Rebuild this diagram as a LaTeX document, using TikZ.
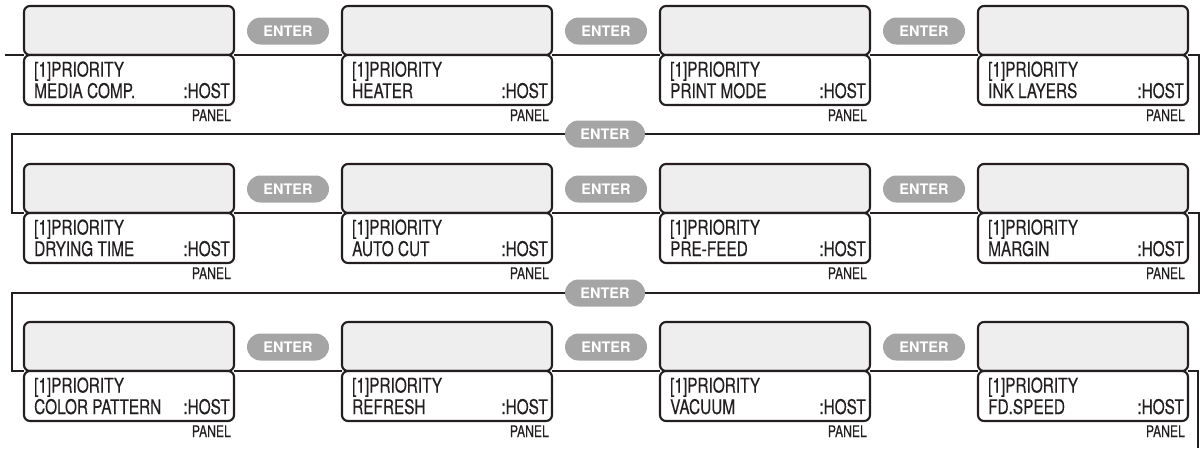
\documentclass[tikz,border=0pt]{standalone}
\usepackage{fontspec}
\newfontfamily\condfont[FakeStretch=0.76,FakeBold=0.25]{TeX Gyre Heros}
\newfontfamily\herosfont{TeX Gyre Heros}
\definecolor{boxgrey}{HTML}{EEEEEE}
\definecolor{pillgrey}{HTML}{A5A5A5}
\definecolor{ink}{HTML}{231F20}
\begin{document}
\begin{tikzpicture}[x=1pt,y=-1pt,
  greybox/.style={draw=ink, line width=2.1pt, fill=boxgrey, rounded corners=6pt,
    minimum width=210pt, minimum height=49pt, inner sep=0pt, outer sep=0pt},
  whitebox/.style={draw=ink, line width=2.1pt, fill=white, rounded corners=6pt,
    minimum width=210pt, minimum height=50pt, inner sep=0pt, outer sep=0pt},
  enterbtn/.style={fill=pillgrey, rounded corners=13.5pt, minimum width=82pt,
    minimum height=27pt, inner sep=0pt, text=white,
    font=\herosfont\bfseries\fontsize{14.5}{15}\selectfont},
  boxtext/.style={inner sep=0pt, text=ink, font=\condfont\fontsize{20.2}{22}\selectfont},
  paneltext/.style={inner sep=0pt, text=ink, anchor=base east,
    font=\condfont\fontsize{16}{17}\selectfont},
  flow/.style={draw=ink, line width=1.2pt}
]
\useasboundingbox (0,0) rectangle (1203,448);

\foreach \r/\ia/\ib/\ic/\id in {
  0/MEDIA COMP./HEATER/PRINT MODE/INK LAYERS,
  1/DRYING TIME/AUTO CUT/PRE-FEED/MARGIN,
  2/COLOR PATTERN/REFRESH/VACUUM/FD.SPEED}{
  \foreach \c/\name in {0/\ia,1/\ib,2/\ic,3/\id}{
    \pgfmathsetmacro\xx{24+318*\c}
    \pgfmathsetmacro\yj{55+158*\r}
    \node[greybox, anchor=south west] (g-\r-\c) at (\xx,\yj) {};
    \node[whitebox, anchor=north west] (w-\r-\c) at (\xx,\yj) {};
    \node[boxtext, anchor=base west] (p-\r-\c) at (\xx+10,\yj+21.5) {[1]PRIORITY};
    \node[boxtext, anchor=base west] (n-\r-\c) at (\xx+10,\yj+43) {\name};
    \node[boxtext, anchor=base east] (h-\r-\c) at (\xx+206,\yj+43) {:HOST};
    \node[paneltext] (pa-\r-\c) at (\xx+207,\yj+66) {PANEL};
  }
  \foreach \c in {0,1,2}{
    \pgfmathsetmacro\xe{288+318*\c}
    \pgfmathsetmacro\ye{31+158*\r}
    \node[enterbtn] (e-\r-\c) at (\xe,\ye) {ENTER};
  }
}

% flow connectors between boxes
\foreach \r in {0,1,2}{
  \foreach \c/\d in {0/1,1/2,2/3}{
    \draw[flow] (g-\r-\c.south east) -- (g-\r-\d.south west);
  }
}

\node[enterbtn, minimum width=80pt] (m-0) at (605,134) {ENTER};
\node[enterbtn, minimum width=80pt] (m-1) at (605,293) {ENTER};

\coordinate (start) at (5,55);
\coordinate (tR0) at (1199,134);
\coordinate (tL0) at (12,134);
\coordinate (tR1) at (1199,293);
\coordinate (tL1) at (12,293);
\coordinate (finish) at (1198,448);

\draw[flow] (start) -- (g-0-0.south west);
\draw[flow] (g-0-3.south east) -| (tR0) -- (m-0.east);
\draw[flow] (m-0.west) -- (tL0) |- (g-1-0.south west);
\draw[flow] (g-1-3.south east) -| (tR1) -- (m-1.east);
\draw[flow] (m-1.west) -- (tL1) |- (g-2-0.south west);
\draw[flow] (g-2-3.south east) -| (finish);
\end{tikzpicture}
\end{document}
